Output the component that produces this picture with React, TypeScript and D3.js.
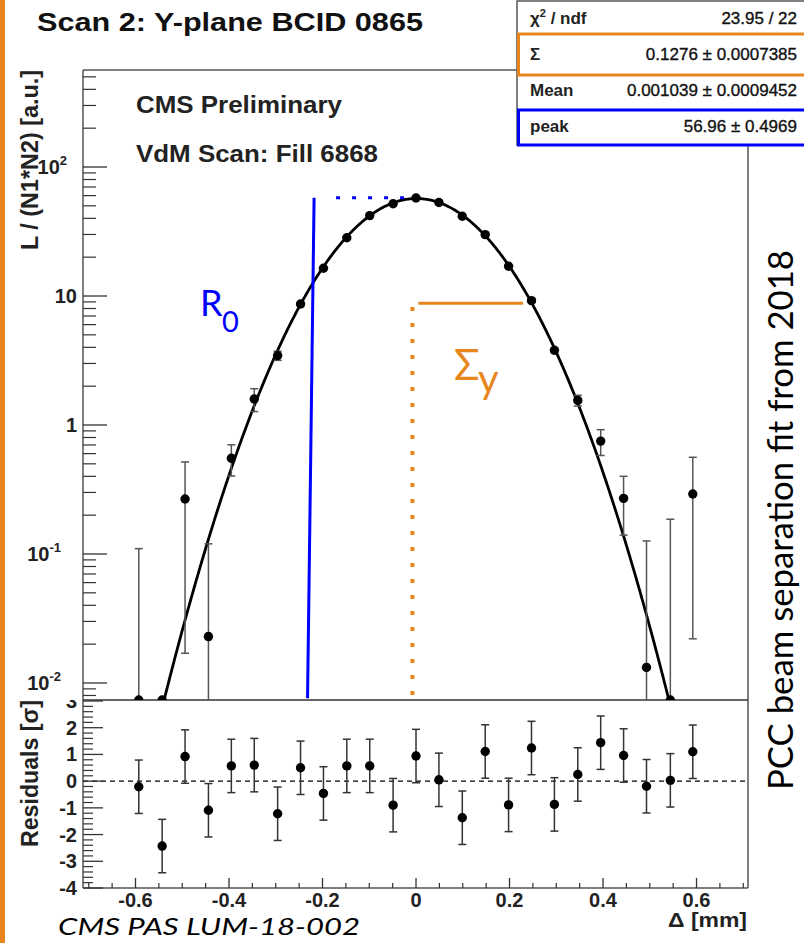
import React from 'react';
import * as d3 from 'd3';

// ---------- data ----------
const separations = [-0.593, -0.543, -0.494, -0.444, -0.395, -0.346, -0.296, -0.247, -0.198, -0.148, -0.099, -0.049, 0, 0.049, 0.099, 0.148, 0.198, 0.247, 0.296, 0.346, 0.395, 0.444, 0.493, 0.544, 0.592];
const rates = [-0.02, -0.006, 0.267, 0.0229, 0.552, 1.59, 3.45, 8.67, 16.4, 28.3, 42, 51.9, 57.5, 53.1, 41.5, 29.9, 17.0, 9.2, 3.8, 1.55, 0.75, 0.27, 0.0132, 0.006, 0.292];
const rateErrors = [0.13, 0.005, 0.25, 0.097, 0.15, 0.32, 0.28, 0.25, 0.3, 0.4, 0.5, 0.55, 0.57, 0.55, 0.5, 0.4, 0.3, 0.25, 0.15, 0.15, 0.17, 0.13, 0.113, 0.18, 0.27];
const residuals = [-0.21, -2.43, 0.92, -1.09, 0.57, 0.6, -1.22, 0.5, -0.46, 0.57, 0.57, -0.9, 0.94, 0.05, -1.37, 1.11, -0.89, 1.24, -0.87, 0.25, 1.44, 0.96, -0.19, 0.03, 1.1];
const residualErrors = [1, 1, 1, 1, 1, 1, 1, 1, 1, 1, 1, 1, 1, 1, 1, 1, 1, 1, 1, 1, 1, 1, 1, 1, 1];

// fit parameters (from stats box)
const fitPeak = 56.96;
const fitSigma = 0.1276;
const fitMean = 0.001039;

const xTicks = [-0.6, -0.4, -0.2, 0, 0.2, 0.4, 0.6];
const xTickLabels = ['-0.6', '-0.4', '-0.2', '0', '0.2', '0.4', '0.6'];
const yLogMajor = [0.01, 0.1, 1, 10, 100];
const yLogLabels = [['10', '-2'], ['10', '-1'], ['1', ''], ['10', ''], ['10', '2']];
const resTicks = [-4, -3, -2, -1, 0, 1, 2, 3];
const resTickLabels = ['-4', '-3', '-2', '-1', '0', '1', '2', '3'];

const statLabels = ['χ', 'Σ', 'Mean', 'peak'];
const statValues = ['23.95 / 22', '0.1276 ± 0.0007385', '0.001039 ± 0.0009452', '56.96 ± 0.4969'];

const ORANGE = '#E8861E';
const BLUE = '#0000FF';

export default function App() {
  const W = 804, H = 943;
  const L = 83, R = 748, T = 70, MID = 700, B = 888;
  const x = d3.scaleLinear().domain([-0.7123, 0.7101]).range([L, R]);
  const yMin = 0.00738;
  const y = d3.scaleLog().domain([yMin, 565]).range([MID, T]);
  const yr = d3.scaleLinear().domain([-4, 3]).range([B, MID + 1]);
  const yc = (v: number) => (v <= yMin ? MID : y(v));

  const fit = (v: number) => fitPeak * Math.exp(-((v - fitMean) ** 2) / (2 * fitSigma * fitSigma));
  const xs = d3.range(-0.7123, 0.7101, 0.002);
  const fitLine = d3.line<number>().x(d => x(d)).y(d => y(Math.max(fit(d), 0.004)));

  const logMinor: number[] = [];
  for (let d = -3; d <= 2; d++) for (let k = 2; k <= 9; k++) {
    const v = k * Math.pow(10, d);
    if (v > yMin && v < 565) logMinor.push(v);
  }
  const resMinor = d3.range(-4, 3.001, 0.2).filter(v => Math.abs(v - Math.round(v)) > 0.01);
  const xMinor = d3.range(-0.7, 0.7001, 0.05).filter(v => Math.abs(v * 5 - Math.round(v * 5)) > 0.01);

  const cap = 4;
  const axisCol = '#555';
  const font = "'Liberation Sans', Arial, sans-serif";
  const pfont = "Lato, 'Open Sans', sans-serif";

  return (
    <svg width={W} height={H} style={{ position: 'absolute', left: 0, top: 0, background: '#fff' }} xmlns="http://www.w3.org/2000/svg">
      <defs>
        <clipPath id="topClip"><rect x={L} y={T} width={R - L} height={MID - T} /></clipPath>
        <clipPath id="resClip"><rect x={0} y={MID} width={W} height={H - MID} /></clipPath>
      </defs>
      <rect x={0} y={0} width={W} height={H} fill="#fff" />
      <rect x={0} y={0} width={5} height={H} fill={ORANGE} />

      {/* title */}
      <text x={37} y={31} fontFamily={font} fontWeight="bold" fontSize={25} textLength={386} lengthAdjust="spacingAndGlyphs" fill="#111">Scan 2: Y-plane BCID 0865</text>

      {/* frames */}
      <line x1={L} y1={T} x2={R} y2={T} stroke={axisCol} strokeWidth={1.5} />
      <line x1={R} y1={T} x2={R} y2={B} stroke={axisCol} strokeWidth={1.5} />
      <line x1={L} y1={T} x2={L} y2={B} stroke={axisCol} strokeWidth={1.5} />
      <line x1={L} y1={MID} x2={R} y2={MID} stroke="#333" strokeWidth={1.5} />
      <line x1={L} y1={B} x2={R} y2={B} stroke={axisCol} strokeWidth={1.5} />

      {/* log axis */}
      {yLogMajor.map((v, i) => (
        <line key={'lm' + i} x1={L} x2={L + 24} y1={y(v)} y2={y(v)} stroke="#333" strokeWidth={1.3} />
      ))}
      {logMinor.map((v, i) => (
        <line key={'ln' + i} x1={L} x2={L + 13} y1={y(v)} y2={y(v)} stroke="#333" strokeWidth={1.2} />
      ))}
      {yLogMajor.map((v, i) => (
        <text key={'ll' + i} x={yLogLabels[i][1] ? (yLogLabels[i][1].length > 1 ? 61 : 67) : 77} y={y(v) + 7} textAnchor="end" fontFamily={font} fontWeight="bold" fontSize={20} fill="#222">
          {yLogLabels[i][0]}
          {yLogLabels[i][1] ? <tspan fontSize={13} dy={-9}>{yLogLabels[i][1]}</tspan> : null}
        </text>
      ))}
      <text transform={`translate(38,250) rotate(-90)`} fontFamily={font} fontWeight="bold" fontSize={23} textLength={180} lengthAdjust="spacingAndGlyphs" fill="#222">L / (N1*N2) [a.u.]</text>

      <text x={136} y={113} fontFamily={font} fontWeight="bold" fontSize={23} textLength={206} lengthAdjust="spacingAndGlyphs" fill="#222">CMS Preliminary</text>
      <text x={136} y={162} fontFamily={font} fontWeight="bold" fontSize={23} textLength={242} lengthAdjust="spacingAndGlyphs" fill="#222">VdM Scan: Fill 6868</text>

      {/* top panel marks */}
      <g clipPath="url(#topClip)">
        <path d={fitLine(xs) || ''} fill="none" stroke="#000" strokeWidth={2.8} />
        {separations.map((s, i) => {
          const hi = rates[i] + rateErrors[i];
          const lo = rates[i] - rateErrors[i];
          if (hi <= yMin) return null;
          const yh = y(hi), yl = yc(lo);
          return (
            <g key={'e' + i} stroke="#555" strokeWidth={1.5}>
              <line x1={x(s)} x2={x(s)} y1={yh} y2={lo <= yMin ? MID + 5 : yl} />
              <line x1={x(s) - cap} x2={x(s) + cap} y1={yh} y2={yh} />
              {lo > yMin ? <line x1={x(s) - cap} x2={x(s) + cap} y1={yl} y2={yl} /> : null}
            </g>
          );
        })}
        {separations.map((s, i) => (
          <circle key={'p' + i} cx={x(s)} cy={yc(rates[i])} r={4.7} fill="#000" />
        ))}
      </g>

      {/* annotations */}
      <line x1={x(-0.218)} y1={y(57.8)} x2={x(-0.232)} y2={y(0.0076)} stroke={BLUE} strokeWidth={3} />
      <line x1={x(-0.171)} y1={y(57.8)} x2={x(-0.02)} y2={y(57.8)} stroke={BLUE} strokeWidth={3} strokeDasharray="4 12" />
      <text x={200} y={316} fontFamily={pfont} fontSize={36} fill={BLUE}>R</text>
      <text x={222} y={332} fontFamily={pfont} fontSize={29} fill={BLUE}>0</text>
      <line x1={x(0.005)} y1={y(8.78)} x2={x(0.229)} y2={y(8.78)} stroke={ORANGE} strokeWidth={3} />
      <line x1={x(-0.0077)} y1={y(8.2)} x2={x(-0.0077)} y2={y(0.0076)} stroke={ORANGE} strokeWidth={4} strokeDasharray="4 12" />
      <text x={454} y={380} fontFamily={pfont} fontSize={42} fill={ORANGE}>Σ</text>
      <text x={478} y={393} fontFamily={pfont} fontSize={40} fill={ORANGE}>y</text>

      {/* residual panel */}
      <line x1={L} x2={R} y1={yr(0)} y2={yr(0)} stroke="#000" strokeWidth={1.4} strokeDasharray="5 4" />
      {resTicks.map((v, i) => (
        <line key={'rt' + i} x1={L} x2={L + 20} y1={yr(v)} y2={yr(v)} stroke="#333" strokeWidth={1.3} />
      ))}
      {resMinor.map((v, i) => (
        <line key={'rn' + i} x1={L} x2={L + 10} y1={yr(v)} y2={yr(v)} stroke="#333" strokeWidth={1.2} />
      ))}
      <g clipPath="url(#resClip)">
        {resTicks.map((v, i) => (
          <text key={'rl' + i} x={77} y={yr(v) + 7} textAnchor="end" fontFamily={font} fontWeight="bold" fontSize={20} fill="#222">{resTickLabels[i]}</text>
        ))}
      </g>
      <text transform={`translate(38,847) rotate(-90)`} fontFamily={font} fontWeight="bold" fontSize={23} textLength={147} lengthAdjust="spacingAndGlyphs" fill="#222">Residuals [σ]</text>

      {separations.map((s, i) => {
        const hi = yr(residuals[i] + residualErrors[i]);
        const lo = yr(residuals[i] - residualErrors[i]);
        return (
          <g key={'re' + i} stroke="#333" strokeWidth={1.5}>
            <line x1={x(s)} x2={x(s)} y1={hi} y2={lo} />
            <line x1={x(s) - cap} x2={x(s) + cap} y1={hi} y2={hi} />
            <line x1={x(s) - cap} x2={x(s) + cap} y1={lo} y2={lo} />
          </g>
        );
      })}
      {separations.map((s, i) => (
        <circle key={'rp' + i} cx={x(s)} cy={yr(residuals[i])} r={4.7} fill="#000" />
      ))}

      {/* x axis */}
      {xTicks.map((v, i) => (
        <line key={'xt' + i} x1={x(v)} x2={x(v)} y1={B} y2={B - 10} stroke="#333" strokeWidth={1.3} />
      ))}
      {xMinor.map((v, i) => (
        <line key={'xn' + i} x1={x(v)} x2={x(v)} y1={B} y2={B - 5} stroke="#333" strokeWidth={1.2} />
      ))}
      {xTicks.map((v, i) => (
        <text key={'xl' + i} x={x(v)} y={907} textAnchor="middle" fontFamily={font} fontWeight="bold" fontSize={20} fill="#222">{xTickLabels[i]}</text>
      ))}
      <text x={747} y={927} textAnchor="end" fontFamily={font} fontWeight="bold" fontSize={21} textLength={79} lengthAdjust="spacingAndGlyphs" fill="#222">Δ [mm]</text>

      {/* stats box */}
      <rect x={517} y={1} width={300} height={144} fill="#fff" stroke={axisCol} strokeWidth={1.5} />
      {statLabels.map((lab, i) => (
        <text key={'sl' + i} x={530} y={18 + 36 * i + 6} fontFamily={font} fontWeight="bold" fontSize={17} fill="#222">
          {lab}
          {i === 0 ? <><tspan fontSize={11} dy={-7}>2</tspan><tspan dy={7}> / ndf</tspan></> : null}
        </text>
      ))}
      {statValues.map((v, i) => (
        <text key={'sv' + i} x={797} y={18 + 36 * i + 6} textAnchor="end" fontFamily={font} fontSize={17} fill="#111" stroke="#111" strokeWidth={0.35}>{v}</text>
      ))}
      <rect x={518.5} y={34} width={290} height={41} fill="none" stroke={ORANGE} strokeWidth={3} />
      <rect x={518.5} y={110} width={290} height={35} fill="none" stroke={BLUE} strokeWidth={3} />

      {/* side and footer text */}
      <text transform={`translate(793,790) rotate(-90)`} fontFamily={pfont} fontSize={35} textLength={540} lengthAdjust="spacingAndGlyphs" fill="#000">PCC beam separation fit from 2018</text>
      <text x={58} y={935} fontFamily={pfont} fontStyle="italic" fontSize={24} textLength={302} lengthAdjust="spacingAndGlyphs" fill="#000">CMS PAS LUM-18-002</text>
    </svg>
  );
}
